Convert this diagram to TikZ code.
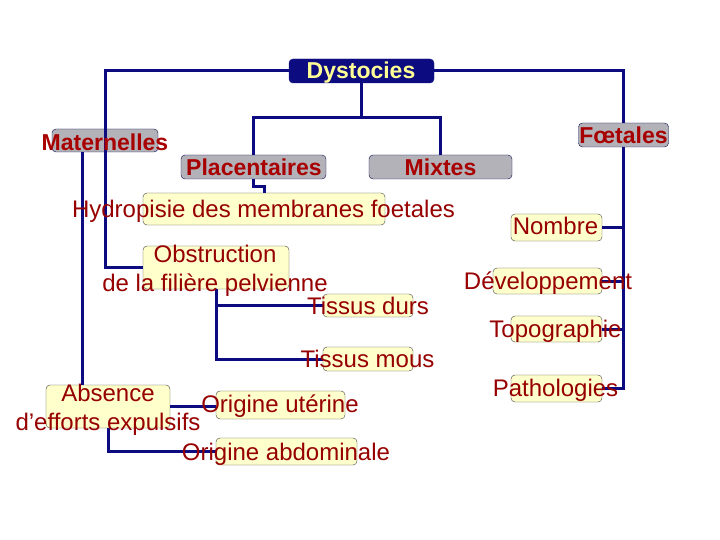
\documentclass[tikz,border=0pt]{standalone}
\usepackage{fontspec}
\setmainfont{Liberation Sans}
\definecolor{marine}{RGB}{12,12,128}
\definecolor{bordeaux}{RGB}{168,0,0}
\definecolor{rouge}{RGB}{150,0,0}
\definecolor{gris}{RGB}{178,178,184}
\definecolor{creme}{RGB}{255,255,204}
\definecolor{paille}{RGB}{255,255,150}

\begin{document}
\begin{tikzpicture}[x=1pt,y=-1pt,
    boite/.style={draw=black!75,rounded corners=4pt,inner sep=0pt},
    grisbox/.style={boite,fill=gris,draw=marine!60!black},
    cremebox/.style={boite,fill=creme},
    titre/.style={text=bordeaux,inner sep=0pt,text height=17pt,text depth=0pt,
        font=\fontsize{23}{28}\selectfont\bfseries},
    texte/.style={text=rouge,inner sep=0pt,text height=17pt,text depth=0pt,align=center,
        font=\fontsize{24}{29}\selectfont},
    lien/.style={draw=marine,line width=3pt}]

    \useasboundingbox (0,0) rectangle (720,540);

    % les boites
    \node[boite,fill=marine,draw=marine,minimum width=145pt,minimum height=24pt] (dys) at (361.5,71) {};
    \node[grisbox,minimum width=106pt,minimum height=23pt] (mat) at (105,140.5) {};
    \node[grisbox,minimum width=145pt,minimum height=24pt] (pla) at (253.5,167) {};
    \node[grisbox,minimum width=143pt,minimum height=24pt] (mix) at (440.5,167) {};
    \node[grisbox,minimum width=90pt,minimum height=24pt] (foe) at (623.5,135) {};

    \node[cremebox,minimum width=242pt,minimum height=32pt] (hyd) at (264,209) {};
    \node[cremebox,minimum width=146pt,minimum height=43pt] (obs) at (216,267.5) {};
    \node[cremebox,minimum width=90pt,minimum height=23pt] (dur) at (368,305.5) {};
    \node[cremebox,minimum width=90pt,minimum height=24pt] (mou) at (368,359) {};
    \node[cremebox,minimum width=124pt,minimum height=43pt] (abs) at (108,406.5) {};
    \node[cremebox,minimum width=129pt,minimum height=28pt] (ute) at (280.5,405) {};
    \node[cremebox,minimum width=141pt,minimum height=27pt] (abd) at (286.5,451.5) {};

    \node[cremebox,minimum width=91pt,minimum height=27pt] (nom) at (556.5,227.5) {};
    \node[cremebox,minimum width=109pt,minimum height=26pt] (dev) at (547.5,281) {};
    \node[cremebox,minimum width=91pt,minimum height=26pt] (topo) at (556.5,329) {};
    \node[cremebox,minimum width=91pt,minimum height=27pt] (pat) at (556.5,388.5) {};

    % les liens
    \begin{scope}[lien]
    \draw (dys.west) -- ++(-183,0) |- (obs.west);
    \draw ([xshift=-23pt]mat.south) -- ([xshift=-26pt]abs.north);
    \draw (dys.south) -- ++(0,34) coordinate (fourche);
    \draw (pla.north) |- (fourche) -| (mix.north);
    \draw (pla.south) -- ++(0,7) -| (hyd.north);
    \draw (obs.south) |- (mou.west);
    \draw (obs.south |- dur.west) -- (dur.west);
    \draw (abs.east) -- (ute.west |- abs.east);
    \draw (abs.south) |- (abd.west);
    \draw (dys.east) -| (foe.north);
    \draw (foe.south) |- (pat.east);
    \draw (nom.east) -- (nom.east -| foe.south);
    \draw (dev.east) -- (dev.east -| foe.south);
    \draw (topo.east) -- (topo.east -| foe.south);
    \end{scope}

    % les textes
    \node[titre,text=paille,font=\fontsize{23}{28}\selectfont\bfseries,text height=16pt] (dysT) at (361,71) {Dystocies};
    \node[titre] (matT) at (105,142) {Maternelles};
    \node[titre] (plaT) at (254,167) {Placentaires};
    \node[titre] (mixT) at (440.5,167) {Mixtes};
    \node[titre] (foeT) at (623.5,135) {Fœtales};

    \node[texte] (hydT) at (263.5,209) {Hydropisie des membranes foetales};
    \node[texte] (obsT) at (215,283) {Obstruction\\de la filière pelvienne};
    \node[texte] (durT) at (368,306) {Tissus durs};
    \node[texte] (mouT) at (367.5,359) {Tissus mous};
    \node[texte] (absT) at (108,422) {Absence\\d’efforts expulsifs};
    \node[texte] (uteT) at (280,404) {Origine utérine};
    \node[texte] (abdT) at (286,452) {Origine abdominale};

    \node[texte] (nomT) at (555.5,226) {Nombre};
    \node[texte] (devT) at (548,281) {Développement};
    \node[texte] (topoT) at (555.5,329) {Topographie};
    \node[texte] (patT) at (555.5,388) {Pathologies};
\end{tikzpicture}
\end{document}
